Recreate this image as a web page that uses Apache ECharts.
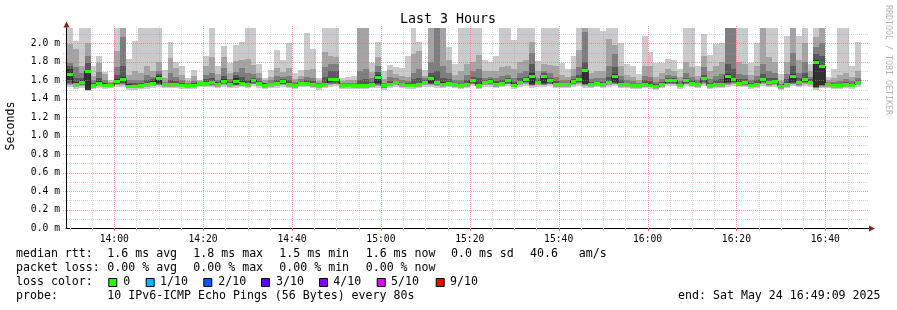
<!DOCTYPE html>
<html><head><meta charset="utf-8">
<script src="https://cdn.jsdelivr.net/npm/echarts@6/dist/echarts.min.js"></script>
<style>html,body{margin:0;padding:0;background:#fff}#c{width:897px;height:310px}</style>
</head><body><div id="c"></div>
<script>
// ---- time range / axes ----
const rangeStart = '13:49:09';
const rangeEnd = '16:49:09';
const firstStep = '13:49:20';
const stepSeconds = 80;
const timeLabels = ['14:00','14:20','14:40','15:00','15:20','15:40','16:00','16:20','16:40'];
const yTop = 2.167;

// ---- sorted pings per 80s step (ms), ping10 = slowest ----
const ping10 = [2.3,2.03,2.3,2.3,1.75,1.86,1.69,1.60,2.3,2.3,
1.83,2.03,2.3,2.3,2.3,2.3,1.71,2.01,1.80,1.76,
1.63,1.71,1.60,1.86,2.3,1.75,1.97,1.79,1.98,2.01,
2.3,2.3,1.78,1.63,1.71,1.93,1.82,2.0,1.68,1.71,
2.115,1.94,1.63,2.3,2.3,2.3,1.63,1.64,1.65,2.3,
2.3,1.79,2.01,1.70,1.77,1.74,1.73,1.86,2.3,2.01,
1.71,2.3,2.3,2.3,1.96,1.78,2.3,2.3,2.3,2.3,
1.82,1.80,1.86,2.3,2.3,2.04,2.3,2.3,2.3,1.81,
2.3,2.3,2.3,1.79,1.725,1.86,2.3,2.3,2.3,2.3,
2.13,2.3,2.3,2.0,1.78,1.75,1.67,2.08,1.91,1.79,
1.79,1.83,1.82,1.725,2.3,2.3,1.75,2.10,1.87,1.99,
2.0,2.3,2.3,2.3,2.3,1.79,2.0,2.3,2.3,2.3,
1.67,2.08,2.3,2.08,2.3,1.78,2.3,2.3,1.635,1.725,
2.3,2.3,1.75,2.01];
const ping9 = [1.99,1.94,1.75,2.0,1.65,1.79,1.67,1.58,1.92,2.3,
1.66,1.70,1.68,1.75,1.70,1.80,1.62,1.84,1.73,1.66,
1.59,1.65,1.59,1.75,1.85,1.67,1.85,1.68,1.81,1.82,
1.83,1.77,1.68,1.60,1.64,1.73,1.69,1.73,1.61,1.65,
1.71,1.72,1.59,1.91,1.86,1.85,1.59,1.60,1.60,2.3,
2.3,1.69,1.85,1.61,1.71,1.67,1.65,1.64,1.88,1.92,
1.65,2.3,2.3,2.3,1.82,1.66,1.70,1.78,1.80,1.87,
1.70,1.70,1.70,1.74,1.75,1.72,1.80,1.82,2.02,1.70,
1.78,1.77,1.75,1.66,1.64,1.72,1.93,2.3,1.68,1.70,
1.70,2.05,1.98,1.75,1.66,1.64,1.60,1.76,1.75,1.64,
1.68,1.72,1.70,1.64,1.80,1.74,1.65,1.86,1.70,1.76,
1.80,2.3,2.3,1.80,1.78,1.66,1.76,2.3,1.85,1.80,
1.59,1.80,2.3,1.82,2.0,1.70,2.07,2.3,1.60,1.62,
1.66,1.68,1.64,1.70];
const ping8 = [1.79,1.74,1.68,1.86,1.60,1.69,1.60,1.57,1.74,2.07,
1.60,1.60,1.60,1.66,1.64,1.70,1.58,1.68,1.64,1.60,
1.57,1.59,1.585,1.66,1.68,1.60,1.73,1.61,1.69,1.73,
1.68,1.67,1.62,1.575,1.60,1.65,1.64,1.65,1.58,1.61,
1.64,1.63,1.57,1.74,1.78,1.78,1.57,1.575,1.57,1.70,
1.72,1.62,1.75,1.575,1.64,1.62,1.60,1.59,1.68,1.72,
1.62,1.80,2.3,1.75,1.68,1.60,1.60,1.66,1.70,1.72,
1.63,1.64,1.63,1.65,1.66,1.62,1.68,1.70,1.90,1.63,
1.70,1.68,1.64,1.60,1.60,1.65,1.74,2.12,1.61,1.62,
1.62,1.75,1.89,1.65,1.60,1.59,1.575,1.65,1.64,1.58,
1.61,1.66,1.65,1.59,1.68,1.64,1.60,1.74,1.61,1.65,
1.67,2.3,2.3,1.67,1.66,1.60,1.65,1.78,1.70,1.68,
1.56,1.67,1.90,1.68,1.80,1.64,1.96,2.0,1.58,1.58,
1.59,1.61,1.59,1.63];
const ping7 = [1.75,1.62,1.63,1.79,1.57,1.62,1.57,1.56,1.66,1.75,
1.57,1.57,1.57,1.60,1.61,1.67,1.57,1.60,1.59,1.57,
1.56,1.57,1.58,1.61,1.62,1.575,1.65,1.58,1.66,1.64,
1.60,1.63,1.59,1.56,1.575,1.60,1.61,1.60,1.56,1.585,
1.60,1.59,1.555,1.64,1.70,1.70,1.56,1.56,1.555,1.60,
1.61,1.58,1.69,1.56,1.59,1.595,1.575,1.57,1.61,1.62,
1.60,1.68,1.70,1.62,1.61,1.575,1.565,1.60,1.64,1.62,
1.60,1.61,1.59,1.60,1.63,1.58,1.62,1.64,1.78,1.60,
1.68,1.63,1.59,1.57,1.575,1.61,1.66,1.80,1.58,1.585,
1.58,1.64,1.74,1.60,1.575,1.565,1.56,1.60,1.59,1.555,
1.58,1.63,1.62,1.565,1.63,1.60,1.575,1.66,1.57,1.60,
1.61,1.78,1.72,1.61,1.61,1.57,1.60,1.67,1.63,1.62,
1.545,1.61,1.75,1.62,1.68,1.61,1.88,1.86,1.57,1.56,
1.565,1.58,1.565,1.60];
const ping6 = [1.72,1.58,1.60,1.71,1.56,1.59,1.56,1.555,1.61,1.64,
1.555,1.55,1.56,1.57,1.59,1.65,1.56,1.565,1.565,1.555,
1.55,1.56,1.578,1.58,1.59,1.565,1.61,1.565,1.63,1.59,
1.565,1.61,1.575,1.555,1.565,1.58,1.60,1.565,1.55,1.575,
1.58,1.565,1.55,1.575,1.63,1.63,1.55,1.555,1.55,1.555,
1.555,1.57,1.66,1.55,1.57,1.585,1.56,1.555,1.56,1.57,
1.59,1.64,1.59,1.57,1.58,1.565,1.55,1.57,1.61,1.555,
1.585,1.60,1.57,1.58,1.61,1.56,1.595,1.62,1.68,1.585,
1.66,1.61,1.57,1.56,1.565,1.60,1.62,1.72,1.57,1.575,
1.565,1.59,1.67,1.57,1.56,1.55,1.55,1.57,1.56,1.54,
1.57,1.61,1.605,1.555,1.61,1.58,1.56,1.635,1.55,1.57,
1.575,1.67,1.62,1.58,1.59,1.555,1.57,1.62,1.59,1.60,
1.54,1.575,1.67,1.59,1.62,1.59,1.82,1.77,1.565,1.55,
1.55,1.57,1.555,1.59];
const median = [1.67,1.565,1.58,1.70,1.55,1.57,1.55,1.545,1.59,1.61,
1.54,1.54,1.55,1.56,1.575,1.625,1.555,1.555,1.555,1.545,
1.545,1.55,1.575,1.57,1.58,1.56,1.595,1.56,1.59,1.575,
1.555,1.60,1.57,1.55,1.56,1.57,1.59,1.555,1.545,1.57,
1.57,1.555,1.545,1.555,1.61,1.61,1.545,1.55,1.545,1.545,
1.545,1.56,1.64,1.545,1.565,1.58,1.555,1.55,1.55,1.56,
1.585,1.63,1.58,1.565,1.57,1.56,1.545,1.56,1.60,1.545,
1.58,1.595,1.56,1.57,1.60,1.55,1.585,1.61,1.65,1.58,
1.65,1.60,1.56,1.555,1.56,1.595,1.61,1.71,1.565,1.57,
1.56,1.58,1.65,1.56,1.555,1.545,1.545,1.565,1.55,1.535,
1.565,1.60,1.60,1.55,1.60,1.57,1.555,1.625,1.545,1.565,
1.565,1.65,1.61,1.575,1.58,1.55,1.565,1.61,1.58,1.595,
1.535,1.565,1.65,1.58,1.61,1.585,1.80,1.75,1.56,1.545,
1.545,1.56,1.55,1.585];
const ping5 = [1.60,1.55,1.565,1.50,1.54,1.555,1.54,1.54,1.575,1.59,
1.535,1.53,1.54,1.55,1.56,1.57,1.545,1.545,1.545,1.54,
1.535,1.54,1.565,1.56,1.565,1.55,1.58,1.55,1.555,1.56,
1.545,1.585,1.56,1.54,1.55,1.56,1.575,1.545,1.535,1.56,
1.56,1.545,1.535,1.545,1.58,1.59,1.535,1.54,1.535,1.535,
1.535,1.55,1.57,1.53,1.555,1.57,1.545,1.54,1.54,1.55,
1.575,1.57,1.565,1.55,1.56,1.55,1.535,1.55,1.585,1.535,
1.57,1.58,1.55,1.56,1.585,1.54,1.575,1.59,1.56,1.57,
1.57,1.585,1.55,1.545,1.55,1.58,1.59,1.565,1.55,1.56,
1.55,1.57,1.585,1.55,1.545,1.535,1.535,1.55,1.54,1.525,
1.55,1.585,1.585,1.54,1.585,1.56,1.545,1.60,1.535,1.55,
1.55,1.58,1.59,1.56,1.565,1.54,1.55,1.59,1.565,1.58,
1.525,1.55,1.585,1.565,1.59,1.575,1.53,1.55,1.55,1.535,
1.535,1.55,1.54,1.57];
const ping4 = [1.57,1.545,1.555,1.495,1.535,1.55,1.535,1.535,1.565,1.575,
1.53,1.525,1.535,1.545,1.555,1.56,1.54,1.54,1.54,1.535,
1.53,1.535,1.56,1.555,1.56,1.545,1.57,1.545,1.55,1.555,
1.54,1.575,1.555,1.535,1.545,1.555,1.565,1.54,1.53,1.555,
1.555,1.54,1.53,1.54,1.57,1.575,1.53,1.535,1.53,1.53,
1.53,1.545,1.56,1.525,1.55,1.56,1.54,1.535,1.535,1.545,
1.565,1.56,1.555,1.545,1.555,1.545,1.53,1.545,1.575,1.53,
1.56,1.57,1.545,1.555,1.575,1.535,1.565,1.58,1.55,1.56,
1.56,1.575,1.545,1.54,1.545,1.57,1.58,1.555,1.545,1.555,
1.545,1.56,1.575,1.545,1.54,1.53,1.53,1.545,1.535,1.52,
1.545,1.575,1.575,1.535,1.575,1.555,1.54,1.585,1.53,1.545,
1.545,1.57,1.58,1.555,1.56,1.535,1.545,1.58,1.56,1.57,
1.52,1.545,1.575,1.56,1.58,1.565,1.525,1.545,1.545,1.53,
1.53,1.545,1.535,1.56];
const ping3 = [1.56,1.54,1.545,1.49,1.53,1.545,1.53,1.53,1.56,1.565,
1.525,1.52,1.53,1.54,1.55,1.55,1.535,1.535,1.535,1.53,
1.525,1.53,1.55,1.55,1.55,1.54,1.56,1.54,1.545,1.55,
1.535,1.565,1.55,1.53,1.54,1.55,1.555,1.535,1.525,1.55,
1.55,1.535,1.525,1.535,1.56,1.565,1.525,1.53,1.525,1.525,
1.525,1.54,1.55,1.52,1.545,1.555,1.535,1.53,1.53,1.54,
1.555,1.555,1.55,1.54,1.55,1.54,1.525,1.54,1.565,1.525,
1.555,1.56,1.54,1.55,1.565,1.53,1.555,1.57,1.545,1.555,
1.55,1.565,1.54,1.535,1.54,1.56,1.57,1.55,1.54,1.55,
1.54,1.555,1.565,1.54,1.535,1.525,1.525,1.54,1.53,1.515,
1.54,1.565,1.565,1.53,1.565,1.55,1.535,1.57,1.525,1.54,
1.54,1.56,1.57,1.55,1.55,1.53,1.54,1.57,1.55,1.56,
1.515,1.54,1.565,1.55,1.57,1.555,1.52,1.54,1.54,1.525,
1.525,1.54,1.53,1.555];
const ping2 = [1.55,1.53,1.535,1.49,1.52,1.535,1.525,1.525,1.55,1.55,
1.52,1.515,1.52,1.53,1.54,1.545,1.53,1.53,1.53,1.525,
1.52,1.525,1.54,1.54,1.54,1.53,1.55,1.53,1.54,1.54,
1.53,1.555,1.54,1.52,1.53,1.54,1.545,1.53,1.52,1.54,
1.54,1.53,1.52,1.53,1.55,1.555,1.52,1.525,1.52,1.52,
1.52,1.53,1.54,1.515,1.535,1.545,1.53,1.525,1.525,1.53,
1.545,1.545,1.54,1.53,1.54,1.53,1.52,1.53,1.555,1.52,
1.545,1.55,1.53,1.54,1.555,1.525,1.545,1.56,1.54,1.545,
1.545,1.555,1.53,1.53,1.53,1.55,1.56,1.54,1.53,1.54,
1.53,1.545,1.555,1.53,1.53,1.52,1.52,1.53,1.525,1.51,
1.53,1.555,1.555,1.525,1.555,1.54,1.53,1.56,1.52,1.53,
1.53,1.55,1.56,1.54,1.54,1.525,1.53,1.56,1.54,1.55,
1.51,1.53,1.555,1.54,1.56,1.545,1.515,1.53,1.53,1.52,
1.52,1.53,1.525,1.545];
const ping1 = [1.53,1.51,1.52,1.485,1.51,1.52,1.51,1.515,1.53,1.53,
1.50,1.50,1.51,1.51,1.52,1.53,1.52,1.515,1.515,1.51,
1.505,1.51,1.53,1.525,1.525,1.515,1.53,1.515,1.52,1.525,
1.515,1.535,1.52,1.505,1.515,1.52,1.525,1.515,1.505,1.525,
1.525,1.515,1.50,1.515,1.53,1.535,1.505,1.51,1.505,1.505,
1.505,1.515,1.52,1.50,1.52,1.525,1.515,1.51,1.51,1.515,
1.525,1.525,1.52,1.515,1.525,1.515,1.505,1.515,1.535,1.505,
1.525,1.53,1.515,1.525,1.535,1.51,1.525,1.54,1.52,1.525,
1.525,1.535,1.515,1.515,1.515,1.53,1.54,1.52,1.515,1.525,
1.515,1.525,1.535,1.515,1.515,1.505,1.505,1.515,1.51,1.495,
1.515,1.535,1.535,1.51,1.535,1.525,1.515,1.54,1.505,1.515,
1.515,1.53,1.54,1.525,1.525,1.51,1.515,1.54,1.525,1.53,
1.495,1.515,1.535,1.525,1.54,1.525,1.50,1.515,1.515,1.505,
1.505,1.515,1.51,1.525];

// ---- legend text ----
const legendRtt = ['1.6 ms avg','1.8 ms max','1.5 ms min','1.6 ms now','0.0 ms sd','40.6   am/s'];
const legendLoss = ['0.00 % avg','0.00 % max','0.00 % min','0.00 % now'];
const lossLabels = ['0','1/10','2/10','3/10','4/10','5/10','9/10'];
const lossColors = ['#26ff00','#00b8ff','#0059ff','#5e00ff','#7e00ff','#dd00ff','#ff0000'];
const probeText = '10 IPv6-ICMP Echo Pings (56 Bytes) every 80s';
const endText = 'end: Sat May 24 16:49:09 2025';

// ---- build ----
const MONO = '"DejaVu Sans Mono", monospace';
const smokeColors = ['#cacaca','#a4a4a4','#7e7e7e','#585858','#323232'];
function toMin(s){ const p = s.split(':').map(Number); return p[0]*60 + p[1] + (p[2]||0)/60; }
const xMin = toMin(rangeStart), xMax = toMin(rangeEnd);
const t0 = toMin(firstStep), dt = stepSeconds/60;
const starts = median.map((_, i) => t0 + i*dt);
const ends = median.map((_, i) => t0 + (i+1)*dt);
const smokeData = median.map((m, i) => [starts[i], ends[i], ping1[i], ping2[i], ping3[i], ping4[i], ping5[i], ping6[i], ping7[i], ping8[i], ping9[i], ping10[i], m]);
const bandData = median.map((m, i) => [starts[i], ends[i], m]);
const medLine = [];
median.forEach((m, i) => { medLine.push([starts[i], m]); medLine.push([ends[i], m]); });
const labelMinutes = timeLabels.map(toMin);
const gridData = [];
for (let v = Math.ceil(xMin/5)*5; v < xMax; v += 5) gridData.push([0, v, v % 20 === 0 ? 1 : 0]);
for (let k = 1; k <= 21; k++) gridData.push([1, k/10, k % 2 === 0 ? 1 : 0]);

function fmtTime(v){ const h = Math.floor(v/60 + 1e-6); const m = Math.round(v - h*60); return String(h).padStart(2,'0') + ':' + String(m).padStart(2,'0'); }

function renderSmoke(params, api){
  const x0 = Math.round(api.coord([api.value(0), 0])[0]);
  const x1 = Math.round(api.coord([api.value(1), 0])[0]);
  const py = v => Math.round(api.coord([xMin, Math.min(v, yTop)])[1]);
  const children = [];
  for (let k = 0; k < 5; k++) {
    const yt = py(api.value(11 - k)), yb = py(api.value(2 + k));
    children.push({type:'rect', shape:{x:x0, y:yt, width:x1 - x0, height:yb - yt}, style:{fill:smokeColors[k]}});
  }
  return {type:'group', children};
}
function renderBand(params, api){
  const x0 = Math.round(api.coord([api.value(0), 0])[0]);
  const x1 = Math.round(api.coord([api.value(1), 0])[0]);
  const ym = Math.round(api.coord([xMin, api.value(2)])[1]);
  return {type:'rect', shape:{x:x0, y:ym - 1, width:x1 - x0, height:3}, style:{fill:lossColors[0]}};
}
function renderGrid(params, api){
  const cs = params.coordSys;
  const dir = api.value(0), v = api.value(1), major = api.value(2);
  const color = major ? 'rgba(255,95,95,0.6)' : 'rgba(150,150,150,0.36)';
  if (dir === 0) {
    const x = Math.round(api.coord([v, 0])[0]) + 0.5;
    return {type:'group', children:[
      {type:'line', shape:{x1:x, y1:cs.y - 2, x2:x, y2:cs.y + cs.height}, style:{stroke:color, lineWidth:1, lineDash:[1,1]}},
      {type:'line', shape:{x1:x, y1:cs.y + cs.height, x2:x, y2:cs.y + cs.height + 3}, style:{stroke: major ? '#ff6060' : '#c0c0c0', lineWidth:1}}
    ]};
  }
  const y = Math.round(api.coord([xMin, v])[1]) + 0.5;
  return {type:'line', shape:{x1:cs.x - 3, y1:y, x2:cs.x + cs.width + 2, y2:y}, style:{stroke:color, lineWidth:1, lineDash:[1,1]}};
}

const textEl = (x, y, text, opts) => Object.assign({type:'text', x, y, silent:true,
  style:Object.assign({text, font:'11.6px ' + MONO, fill:'#000', align:'left', verticalAlign:'middle', textAlign:'left', textVerticalAlign:'middle'}, opts || {})});

const rttX = [107.3, 193.3, 279.3, 365.7, 451, 530];
const boxX = [108.3, 145.7, 203.3, 261, 319, 376.7, 435.7];
const boxLabelX = [123.3, 160, 218.3, 276, 333.3, 391, 450];
const graphics = [
  textEl(448, 19.5, 'Last 3 Hours', {font:'13.3px ' + MONO, align:'center', textAlign:'center'}),
  Object.assign(textEl(11, 126, 'Seconds', {align:'center', textAlign:'center'}), {rotation: Math.PI/2}),
  Object.assign(textEl(888.5, 60, 'RRDTOOL / TOBI OETIKER', {font:'8.3px ' + MONO, fill:'#b4b4b4', align:'center', textAlign:'center'}), {rotation: -Math.PI/2}),
  textEl(16, 254, 'median rtt:'),
  textEl(16, 268, 'packet loss:'),
  textEl(16, 282, 'loss color:'),
  textEl(16, 296, 'probe:'),
  textEl(107.3, 296, probeText),
  textEl(880.5, 296, endText, {align:'right', textAlign:'right'}),
  {type:'polygon', silent:true, shape:{points:[[63.5,27.5],[69.5,27.5],[66.5,21.5]]}, style:{fill:'#8b1c1c'}},
  {type:'polygon', silent:true, shape:{points:[[869,225.5],[869,231.5],[875,228.5]]}, style:{fill:'#8b1c1c'}},
  {type:'line', silent:true, shape:{x1:866, y1:228.5, x2:869, y2:228.5}, style:{stroke:'#000', lineWidth:1}}
];
legendRtt.forEach((t, i) => graphics.push(textEl(rttX[i], 254, t)));
legendLoss.forEach((t, i) => graphics.push(textEl(rttX[i], 268, t)));
lossLabels.forEach((t, i) => {
  graphics.push({type:'rect', silent:true, shape:{x:boxX[i] + 0.5, y:278.5, width:8, height:8}, style:{fill:lossColors[i], stroke:'#000', lineWidth:1}});
  graphics.push(textEl(boxLabelX[i], 282, t));
});

const chart = echarts.init(document.getElementById('c'), null, {renderer:'canvas', width:897, height:310});
chart.setOption({
  animation:false,
  backgroundColor:'#ffffff',
  grid:{left:66, top:28, width:800, height:200, containLabel:false, outerBoundsMode:'none'},
  xAxis:{type:'value', min:xMin, max:xMax, position:'bottom',
    axisLine:{show:true, onZero:false, lineStyle:{color:'#000', width:1}},
    axisTick:{show:false},
    splitLine:{show:false},
    axisLabel:{customValues:labelMinutes, formatter:fmtTime, color:'#000', fontFamily:MONO, fontSize:9.7, margin:6}},
  yAxis:{type:'value', min:0, max:yTop, interval:0.2,
    axisLine:{show:true, lineStyle:{color:'#000', width:1}},
    axisTick:{show:false},
    splitLine:{show:false},
    axisLabel:{formatter:v => v.toFixed(1) + ' m', showMaxLabel:false, color:'#000', fontFamily:MONO, fontSize:9.7, margin:6}},
  graphic:graphics,
  series:[
    {type:'custom', name:'smoke', z:2, silent:true, clip:true, renderItem:renderSmoke,
     encode:{x:[0,1], y:[2,3,4,5,6,7,8,9,10,11,12]}, data:smokeData},
    {type:'custom', name:'grid', z:3, silent:true, renderItem:renderGrid, encode:{x:1, y:2}, data:gridData},
    {type:'line', name:'median', z:4, silent:true, symbol:'none', showSymbol:false,
     lineStyle:{color:'#202020', width:1}, data:medLine},
    {type:'custom', name:'median loss band', z:5, silent:true, renderItem:renderBand,
     encode:{x:[0,1], y:2}, data:bandData}
  ]
});
</script>
</body></html>
